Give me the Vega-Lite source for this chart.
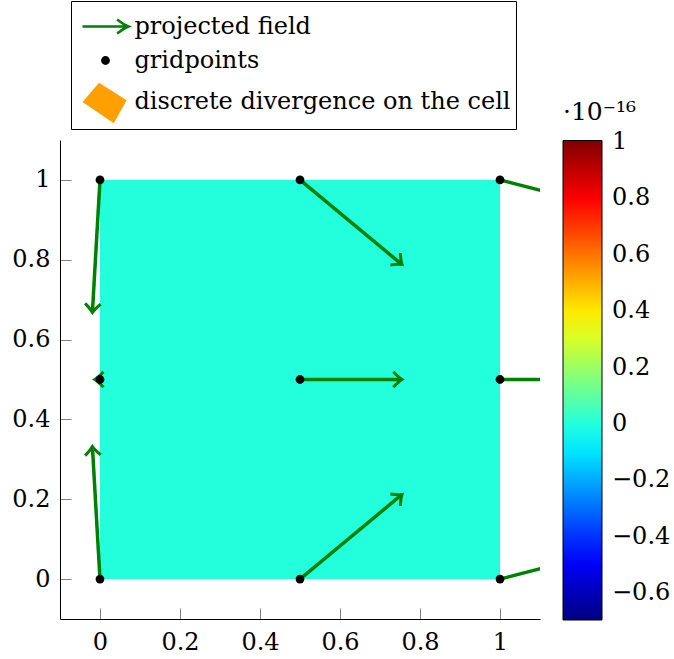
{
  "$schema": "https://vega.github.io/schema/vega-lite/v6.json",
  "width": 480,
  "height": 479,
  "autosize": {"type": "none"},
  "padding": {"left": 60, "top": 140, "right": 134, "bottom": 40},
  "config": {
    "view": {"stroke": null},
    "font": "DejaVu Serif",
    "axis": {
      "title": null,
      "grid": false,
      "domainColor": "black",
      "domainWidth": 1,
      "tickColor": "#808080",
      "tickWidth": 1,
      "tickSize": -11,
      "labelFont": "DejaVu Serif",
      "labelFontSize": 24,
      "labelColor": "black",
      "labelOverlap": false
    },
    "legend": {
      "padding": 0,
      "labelFont": "DejaVu Serif",
      "labelFontSize": 24,
      "labelColor": "black",
      "titleFont": "DejaVu Serif",
      "titleFontSize": 24,
      "titleFontWeight": "normal",
      "titleColor": "black",
      "labelLimit": 600
    }
  },
  "datasets": {
    "cell": [{"x": 0, "x2": 1, "y": 0, "y2": 1, "div": 0}],
    "arrows": [
      {"x": 0, "y": 1, "x2": -0.019, "y2": 0.668},
      {"x": 0, "y": 0.5, "x2": -0.013, "y2": 0.5},
      {"x": 0, "y": 0, "x2": -0.019, "y2": 0.332},
      {"x": 0.5, "y": 1, "x2": 0.755, "y2": 0.788},
      {"x": 0.5, "y": 0.5, "x2": 0.755, "y2": 0.5},
      {"x": 0.5, "y": 0, "x2": 0.755, "y2": 0.212},
      {"x": 1, "y": 1, "x2": 1.25, "y2": 0.935},
      {"x": 1, "y": 0.5, "x2": 1.25, "y2": 0.5},
      {"x": 1, "y": 0, "x2": 1.25, "y2": 0.065}
    ],
    "grid": [
      {"x": 0, "y": 0, "kind": "gridpoints"},
      {"x": 0, "y": 0.5, "kind": "gridpoints"},
      {"x": 0, "y": 1, "kind": "gridpoints"},
      {"x": 0.5, "y": 0, "kind": "gridpoints"},
      {"x": 0.5, "y": 0.5, "kind": "gridpoints"},
      {"x": 0.5, "y": 1, "kind": "gridpoints"},
      {"x": 1, "y": 0, "kind": "gridpoints"},
      {"x": 1, "y": 0.5, "kind": "gridpoints"},
      {"x": 1, "y": 1, "kind": "gridpoints"}
    ]
  },
  "layer": [
    {
      "data": {"name": "cell"},
      "mark": {"type": "rect"},
      "encoding": {
        "x": {"field": "x", "type": "quantitative", "scale": {"domain": [-0.1, 1.1], "nice": false, "zero": false}, "axis": {"values": [0, 0.2, 0.4, 0.6, 0.8, 1], "format": ".1~f", "labelPadding": 22}},
        "x2": {"field": "x2"},
        "y": {"field": "y", "type": "quantitative", "scale": {"domain": [-0.1, 1.1], "nice": false, "zero": false}, "axis": {"values": [0, 0.2, 0.4, 0.6, 0.8, 1], "format": ".1~f", "labelPadding": 21}},
        "y2": {"field": "y2"},
        "color": {
          "field": "div",
          "type": "quantitative",
          "scale": {
            "domain": [-0.695, -0.4825, -0.0575, 0.3675, 0.7925, 1.005],
            "range": ["#000080", "#0000ff", "#00ffff", "#ffff00", "#ff0000", "#800000"],
            "interpolate": "rgb"
          },
          "legend": {
            "orient": "none",
            "legendX": 503,
            "legendY": -40,
            "title": "·10⁻¹⁶",
            "titlePadding": 15.5,
            "titleAnchor": "start",
            "titleFont": "DejaVu Serif",
            "titleFontSize": 25,
            "labelFont": "DejaVu Serif",
            "labelFontSize": 24,
            "direction": "vertical",
            "gradientLength": 479.5,
            "gradientThickness": 39,
            "gradientStrokeColor": "black",
            "gradientStrokeWidth": 1,
            "values": [-0.6, -0.4, -0.2, 0, 0.2, 0.4, 0.6, 0.8, 1],
            "format": ".1~f",
            "labelOffset": 10,
            "labelOverlap": false
          }
        }
      }
    },
    {
      "data": {"name": "arrows"},
      "mark": {"type": "rule", "color": "#008000", "strokeWidth": 3.5, "clip": true},
      "encoding": {
        "x": {"field": "x", "type": "quantitative", "scale": {"domain": [-0.1, 1.1], "nice": false, "zero": false}, "axis": {"values": [0, 0.2, 0.4, 0.6, 0.8, 1], "format": ".1~f", "labelPadding": 22}},
        "x2": {"field": "x2"},
        "y": {"field": "y", "type": "quantitative", "scale": {"domain": [-0.1, 1.1], "nice": false, "zero": false}, "axis": {"values": [0, 0.2, 0.4, 0.6, 0.8, 1], "format": ".1~f", "labelPadding": 21}},
        "y2": {"field": "y2"}
      }
    },
    {
      "data": {"name": "arrows"},
      "transform": [{"calculate": "atan2(datum.y - datum.y2, datum.x2 - datum.x) * 180 / PI", "as": "ang"}],
      "mark": {"type": "point", "shape": "M -1 -0.9 Q -0.4 -0.25 0 0 Q -0.4 0.25 -1 0.9", "size": 300, "filled": false, "color": "#008000", "strokeWidth": 3, "opacity": 1, "clip": true},
      "encoding": {
        "x": {"field": "x2", "type": "quantitative", "scale": {"domain": [-0.1, 1.1], "nice": false, "zero": false}, "axis": {"values": [0, 0.2, 0.4, 0.6, 0.8, 1], "format": ".1~f", "labelPadding": 22}},
        "y": {"field": "y2", "type": "quantitative", "scale": {"domain": [-0.1, 1.1], "nice": false, "zero": false}, "axis": {"values": [0, 0.2, 0.4, 0.6, 0.8, 1], "format": ".1~f", "labelPadding": 21}},
        "angle": {"field": "ang", "type": "quantitative", "scale": null}
      }
    },
    {
      "data": {"name": "grid"},
      "mark": {"type": "point", "filled": true, "opacity": 1},
      "encoding": {
        "x": {"field": "x", "type": "quantitative", "scale": {"domain": [-0.1, 1.1], "nice": false, "zero": false}, "axis": {"values": [0, 0.2, 0.4, 0.6, 0.8, 1], "format": ".1~f", "labelPadding": 22}},
        "y": {"field": "y", "type": "quantitative", "scale": {"domain": [-0.1, 1.1], "nice": false, "zero": false}, "axis": {"values": [0, 0.2, 0.4, 0.6, 0.8, 1], "format": ".1~f", "labelPadding": 21}},
        "shape": {
          "field": "kind",
          "type": "nominal",
          "scale": {
            "domain": ["projected field", "gridpoints", "discrete divergence on the cell"],
            "range": [
              "M -1.227 0 L 1.17 0 M 0.62 -0.37 Q 0.95 -0.1 1.227 0 Q 0.95 0.1 0.62 0.37",
              "circle",
              "M -1.25 0 L -0.35 -1.05 L 1.15 -0.09 L 0.45 1.16 Z"
            ]
          },
          "legend": {
            "orient": "none",
            "legendX": 11,
            "legendY": -139,
            "title": null,
            "strokeColor": "black",
            "fillColor": "white",
            "padding": 5.5,
            "rowPadding": 10,
            "symbolOffset": 9,
            "labelOffset": 9,
            "labelFont": "DejaVu Serif",
            "labelFontSize": 24
          }
        },
        "size": {
          "field": "kind",
          "type": "nominal",
          "scale": {
            "type": "ordinal",
            "domain": ["projected field", "gridpoints", "discrete divergence on the cell"],
            "range": [1406, 78, 1350]
          }
        },
        "fill": {
          "field": "kind",
          "type": "nominal",
          "scale": {
            "domain": ["projected field", "gridpoints", "discrete divergence on the cell"],
            "range": ["transparent", "black", "#ffa000"]
          }
        },
        "stroke": {
          "field": "kind",
          "type": "nominal",
          "scale": {
            "domain": ["projected field", "gridpoints", "discrete divergence on the cell"],
            "range": ["#008000", "transparent", "transparent"]
          }
        },
        "strokeWidth": {
          "field": "kind",
          "type": "nominal",
          "scale": {
            "type": "ordinal",
            "domain": ["projected field", "gridpoints", "discrete divergence on the cell"],
            "range": [2.5, 0, 0]
          }
        }
      }
    }
  ]
}
